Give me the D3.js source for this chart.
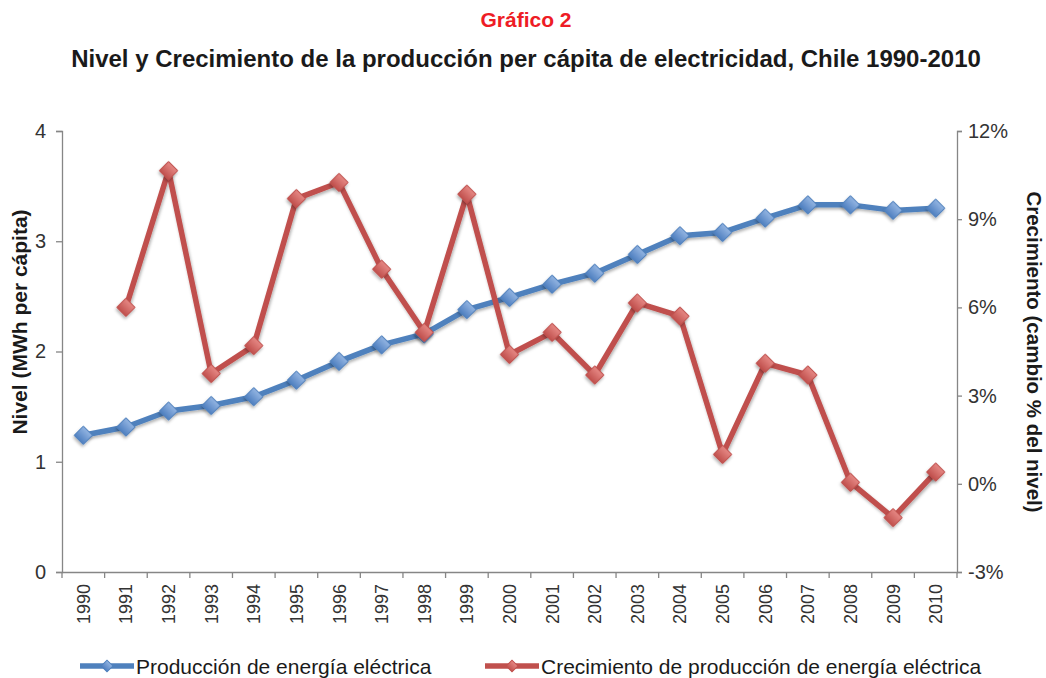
<!DOCTYPE html>
<html>
<head>
<meta charset="utf-8">
<script src="https://cdn.jsdelivr.net/npm/d3@7"></script>
<style>
  body { margin: 0; background: #fff; }
  svg { font-family: "Liberation Sans", Arial, sans-serif; }
</style>
</head>
<body>
<div id="graph"></div>
<script>
//chart data
const years = ["1990","1991","1992","1993","1994","1995","1996","1997","1998","1999","2000",
    "2001","2002","2003","2004","2005","2006","2007","2008","2009","2010"];
const nivel = [1.24,1.315,1.46,1.51,1.59,1.74,1.91,2.06,2.16,2.38,2.49,
    2.61,2.71,2.88,3.05,3.08,3.21,3.33,3.33,3.28,3.30];
const crecimiento = [null,6.0,10.65,3.75,4.7,9.7,10.25,7.3,5.15,9.85,4.4,
    5.15,3.7,6.15,5.7,1.0,4.1,3.7,0.05,-1.15,0.4];
const leftTicks = [0,1,2,3,4];
const rightTicks = [-3,0,3,6,9,12];

const width = 1046, height = 678;
const margin = {left: 62, right: 89, top: 131, bottom: 106};

const svg = d3.select("#graph").append("svg")
    .attr("width", width)
    .attr("height", height);

const defs = svg.append("defs");

//soft shadow under markers and lines
const shadow = defs.append("filter").attr("id", "shadow")
    .attr("x", "-50%").attr("y", "-50%").attr("width", "200%").attr("height", "200%");
shadow.append("feDropShadow")
    .attr("dx", 1).attr("dy", 2).attr("stdDeviation", 1.5)
    .attr("flood-color", "#000").attr("flood-opacity", 0.3);

//marker gradients
function addGradient(id, light, dark){
    const g = defs.append("linearGradient").attr("id", id)
        .attr("x1", 0).attr("y1", 0).attr("x2", 0).attr("y2", 1);
    g.append("stop").attr("offset", "0%").attr("stop-color", light);
    g.append("stop").attr("offset", "100%").attr("stop-color", dark);
}
addGradient("gradBlue", "#93b5e2", "#4f7fc0");
addGradient("gradRed", "#e68884", "#c0504d");

//scales
const x = d3.scaleBand()
    .domain(years)
    .range([margin.left, width - margin.right])
    .padding(0);

const yLeft = d3.scaleLinear()
    .domain([0, 4])
    .range([height - margin.bottom, margin.top]);

const yRight = d3.scaleLinear()
    .domain([-3, 12])
    .range([height - margin.bottom, margin.top]);

const axisColor = "#868686";
const textColor = "#333";

//axes
const gLeft = svg.append("g")
    .attr("transform", "translate(" + margin.left + ",0)")
    .call(d3.axisLeft(yLeft).tickValues(leftTicks).tickSize(6).tickPadding(10).tickFormat(d3.format("d")));

const gRight = svg.append("g")
    .attr("transform", "translate(" + (width - margin.right) + ",0)")
    .call(d3.axisRight(yRight).tickValues(rightTicks).tickSize(5).tickPadding(6)
        .tickFormat(function(d){ return d + "%"; }));

const gBottom = svg.append("g")
    .attr("transform", "translate(0," + (height - margin.bottom) + ")")
    .call(d3.axisBottom(x).tickSize(0).tickFormat(""));

//x ticks at category boundaries
gBottom.selectAll("line.bound")
    .data(years.concat(["end"]))
    .enter().append("line")
    .attr("class", "bound")
    .attr("x1", function(d, i){ return margin.left + i * x.bandwidth(); })
    .attr("x2", function(d, i){ return margin.left + i * x.bandwidth(); })
    .attr("y1", 0).attr("y2", 6)
    .attr("stroke", axisColor)
    .attr("stroke-width", 1.3);

//rotated year labels
gBottom.selectAll("text.year")
    .data(years)
    .enter().append("text")
    .attr("class", "year")
    .attr("transform", function(d){
        return "translate(" + (x(d) + x.bandwidth() / 2 + 6.5) + ",12) rotate(-90)";
    })
    .attr("text-anchor", "end")
    .attr("font-size", 18)
    .attr("fill", textColor)
    .text(function(d){ return d; });

[gLeft, gRight, gBottom].forEach(function(g){
    g.select(".domain").attr("stroke", axisColor).attr("stroke-width", 1.3);
    g.selectAll(".tick line").attr("stroke", axisColor).attr("stroke-width", 1.3);
    g.selectAll(".tick text").attr("font-size", 20).attr("fill", textColor)
        .attr("font-family", "Liberation Sans, Arial, sans-serif");
});

//titles
svg.append("text")
    .attr("x", 526).attr("y", 27)
    .attr("text-anchor", "middle")
    .attr("font-size", 21).attr("font-weight", "bold")
    .attr("fill", "#ee1c25")
    .text("Gráfico 2");

svg.append("text")
    .attr("x", 526).attr("y", 67)
    .attr("text-anchor", "middle")
    .attr("font-size", 24).attr("font-weight", "bold")
    .attr("fill", "#1a1a1a")
    .text("Nivel y Crecimiento de la producción per cápita de electricidad, Chile 1990-2010");

//axis titles
svg.append("text")
    .attr("transform", "translate(27,322) rotate(-90)")
    .attr("text-anchor", "middle")
    .attr("font-size", 21).attr("font-weight", "bold")
    .attr("fill", "#1a1a1a")
    .text("Nivel (MWh per cápita)");

svg.append("text")
    .attr("transform", "translate(1027,352) rotate(90)")
    .attr("text-anchor", "middle")
    .attr("font-size", 20.5).attr("font-weight", "bold")
    .attr("fill", "#1a1a1a")
    .text("Crecimiento (cambio % del nivel)");

//series
const series = [
    {name: "Producción de energía eléctrica", values: nivel, scale: yLeft,
        color: "#4f81bd", grad: "url(#gradBlue)", legendX: 80},
    {name: "Crecimiento de producción de energía eléctrica", values: crecimiento, scale: yRight,
        color: "#c0504d", grad: "url(#gradRed)", legendX: 485}
];

const marker = d3.symbol().type(d3.symbolSquare).size(165);

series.forEach(function(s){
    const pts = years.map(function(y, i){ return {year: y, v: s.values[i]}; })
        .filter(function(d){ return d.v !== null; });

    const line = d3.line()
        .x(function(d){ return x(d.year) + x.bandwidth() / 2; })
        .y(function(d){ return s.scale(d.v); });

    svg.append("path")
        .datum(pts)
        .attr("d", line)
        .attr("fill", "none")
        .attr("stroke", s.color)
        .attr("stroke-width", 5.5)
        .attr("stroke-linejoin", "round")
        .attr("filter", "url(#shadow)");

    svg.append("g").selectAll("path")
        .data(pts)
        .enter().append("path")
        .attr("d", marker)
        .attr("transform", function(d){
            return "translate(" + (x(d.year) + x.bandwidth() / 2) + "," + s.scale(d.v) + ") rotate(45)";
        })
        .attr("fill", s.grad)
        .attr("stroke", s.color)
        .attr("stroke-width", 1)
        .attr("filter", "url(#shadow)");

    //legend
    const lg = svg.append("g").attr("transform", "translate(" + s.legendX + ",666)");
    lg.append("line")
        .attr("x1", 0).attr("x2", 54)
        .attr("stroke", s.color).attr("stroke-width", 5.5);
    lg.append("path")
        .attr("d", d3.symbol().type(d3.symbolSquare).size(70))
        .attr("transform", "translate(27,0) rotate(45)")
        .attr("fill", s.grad).attr("stroke", s.color);
    lg.append("text")
        .attr("x", 56).attr("y", 7.5)
        .attr("font-size", 21)
        .attr("fill", "#1a1a1a")
        .text(s.name);
});
</script>
</body>
</html>
